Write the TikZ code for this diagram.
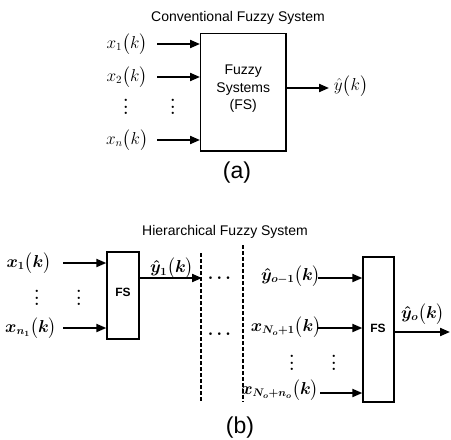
\documentclass[tikz,border=0pt]{standalone}
\usepackage{amsmath}
\usepackage{fontspec}
\setsansfont{Liberation Sans}
\usetikzlibrary{arrows.meta}
\newcommand{\myvd}{\vbox{\baselineskip=6.5pt\lineskiplimit=-10pt\hbox{.}\hbox{.}\hbox{.}}}
\begin{document}
\begin{tikzpicture}[x=1pt,y=-1pt,
  arr/.style={line width=2pt,-{Triangle[length=10pt,width=8pt]}},
  fsbox/.style={draw,line width=1.3pt,inner sep=0pt},
  lab/.style={inner sep=0pt,font=\fontsize{16}{23}\selectfont},
  blab/.style={inner sep=0pt,font=\fontsize{16}{23}\selectfont\boldmath},
  ttl/.style={inner sep=0pt,font=\sffamily\fontsize{14}{17}\selectfont},
  captxt/.style={inner sep=0pt,font=\sffamily\fontsize{23}{27}\selectfont},
  dts/.style={inner sep=0pt,font=\bfseries\fontsize{16}{19}\selectfont},
  dline/.style={line width=1.8pt,dash pattern=on 4pt off 2pt}
]
\useasboundingbox (0,0) rectangle (451,440);

% ---------- (a) ----------
\node[ttl] (ta) at (238,18) {Conventional Fuzzy System};
\node[fsbox,minimum width=85.3pt,minimum height=117.3pt] (fs) at (243.3,92.3) {};
\node[ttl,align=center,font=\sffamily\fontsize{14}{17.5}\selectfont] (fst) at (243.3,89) {Fuzzy\\Systems\\(FS)};

\node[lab] (x1) at (127,44) {$x_1\bigl(k\bigr)$};
\node[lab] (x2) at (127,77) {$x_2\bigl(k\bigr)$};
\node[lab] (xn) at (127,140) {$x_n\bigl(k\bigr)$};
\node[dts] (va1) at (126,107) {\myvd};
\node[dts] (va2) at (173,107) {\myvd};

\coordinate (a1) at (157,44);
\coordinate (a2) at (157,77);
\coordinate (a3) at (157,140);
\draw[arr] (a1) -- (a1 -| fs.west);
\draw[arr] (a2) -- (a2 -| fs.west);
\draw[arr] (a3) -- (a3 -| fs.west);

\coordinate (ao) at (329,88);
\draw[arr] (fs.east |- ao) -- (ao);
\node[lab] (y) at (351,86) {$\hat{y}\bigl(k\bigr)$};

\node[captxt] (ca) at (237,173) {(a)};

% ---------- (b) ----------
\node[ttl] (tb) at (225,232) {Hierarchical Fuzzy System};

\node[fsbox,minimum width=32pt,minimum height=87pt] (b1) at (123,295.5) {};
\node[inner sep=0pt,font=\sffamily\bfseries\fontsize{12}{14}\selectfont] (b1t) at (123,292) {FS};

\node[blab] (bx1) at (29,263) {$x_1\bigl(k\bigr)$};
\node[blab] (bxn) at (31,328) {$x_{n_1}\bigl(k\bigr)$};
\node[dts] (vb1) at (37,298) {\myvd};
\node[dts] (vb2) at (79,298) {\myvd};

\coordinate (c1) at (63,263);
\coordinate (c2) at (63,328);
\draw[arr] (c1) -- (c1 -| b1.west);
\draw[arr] (c2) -- (c2 -| b1.west);

\coordinate (d1t) at (201,253);
\coordinate (d1b) at (201,402);
\coordinate (d2t) at (243,245);
\coordinate (d2b) at (243,402);
\draw[dline] (d1t) -- (d1b);
\draw[dline] (d2t) -- (d2b);

\coordinate (y1e) at (202,278);
\draw[arr] (b1.east |- y1e) -- (y1e);
\node[blab,anchor=south] (y1) at (172,279) {$\hat{y}_1\bigl(k\bigr)$};

\node[inner sep=0pt,font=\fontsize{16}{19}\selectfont\boldmath] (h1) at (221,278) {$\cdots$};
\node[inner sep=0pt,font=\fontsize{16}{19}\selectfont\boldmath] (h2) at (221,334) {$\cdots$};

\node[fsbox,minimum width=31pt,minimum height=145pt] (b2) at (378.5,329.5) {};
\node[inner sep=0pt,font=\sffamily\bfseries\fontsize{12}{14}\selectfont] (b2t) at (378,328) {FS};

\node[blab] (yo1) at (291,276) {$\hat{y}_{o-1}\bigl(k\bigr)$};
\node[blab] (xno1) at (286,327) {$x_{N_o+1}\bigl(k\bigr)$};
\node[blab] (xnon) at (280,390) {$x_{N_o+n_o}\bigl(k\bigr)$};
\node[dts] (vc1) at (292,363) {\myvd};
\node[dts] (vc2) at (334,363) {\myvd};

\coordinate (e1) at (318,278);
\coordinate (e2) at (318,328);
\coordinate (e3) at (320,393);
\draw[arr] (e1) -- (e1 -| b2.west);
\draw[arr] (e2) -- (e2 -| b2.west);
\draw[arr] (e3) -- (e3 -| b2.west);

\coordinate (oe) at (450,332);
\draw[arr] (b2.east |- oe) -- (oe);
\node[blab] (yo) at (423,314) {$\hat{y}_o\bigl(k\bigr)$};

\node[captxt] (cb) at (240,428) {(b)};
\end{tikzpicture}
\end{document}
